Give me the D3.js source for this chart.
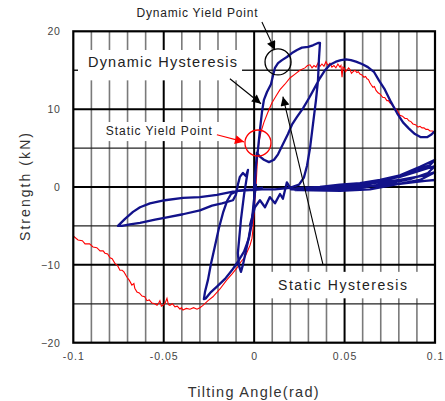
<!DOCTYPE html>
<html>
<head>
<meta charset="utf-8">
<script src="https://cdn.jsdelivr.net/npm/d3@7/dist/d3.min.js"></script>
<style>
  html, body { margin: 0; padding: 0; background: #fff; }
  svg { display: block; }
  text { font-family: "Liberation Sans", Arial, sans-serif; }
</style>
</head>
<body>
<svg id="chart" width="445" height="401"></svg>
<script>
// Tick values
const xTicks = [-0.1, -0.05, 0, 0.05, 0.1];
const xTickLabels = ["-0.1", "-0.05", "0", "0.05", "0.1"];
const yTicks = [-20, -10, 0, 10, 20];
const xMinor = d3.range(-9, 10).map(d => d / 100);
const yMinor = [-15, -5, 5, 15];

// Static loading test (tilting angle rad, strength kN)
const staticCurve = [
  [-0.100, -6.3], [-0.0974, -6.8], [-0.0950, -6.9], [-0.0935, -7.3], [-0.0910, -7.3], [-0.0891, -7.7],
  [-0.0870, -7.8], [-0.0852, -8.2], [-0.0835, -8.2], [-0.0825, -8.5], [-0.0810, -8.6], [-0.0797, -9.1],
  [-0.0785, -9.2], [-0.0770, -9.8], [-0.0755, -10.1], [-0.0742, -10.7], [-0.0730, -10.7], [-0.0720, -10.9],
  [-0.0703, -11.6], [-0.0690, -12.0], [-0.0676, -12.6], [-0.0665, -12.4], [-0.0660, -13.0], [-0.0648, -13.5],
  [-0.0635, -13.6], [-0.0620, -14.0], [-0.0605, -14.1], [-0.0593, -14.6], [-0.0580, -14.5], [-0.0565, -14.9],
  [-0.0550, -15.0], [-0.0537, -15.2], [-0.0528, -14.9], [-0.0521, -14.6], [-0.0513, -15.3], [-0.0504, -15.2],
  [-0.0492, -14.9], [-0.0482, -14.3], [-0.0474, -15.1], [-0.0466, -15.2], [-0.0452, -15.0], [-0.0438, -15.4],
  [-0.0425, -15.3], [-0.0410, -15.7], [-0.0402, -15.5], [-0.0394, -15.8], [-0.0375, -15.6], [-0.0355, -15.7],
  [-0.0335, -15.5], [-0.0316, -15.7], [-0.0300, -15.5], [-0.0283, -15.2], [-0.0255, -14.6], [-0.0228, -14.1],
  [-0.0189, -13.1], [-0.0150, -11.9], [-0.0123, -11.2], [-0.0095, -10.4], [-0.0073, -9.6], [-0.0051, -9.0],
  [-0.0034, -8.1], [-0.0023, -7.5], [-0.0012, -6.6], [-0.0007, -5.5], [-0.0001, -3.6], [0.0004, -1.7],
  [0.0010, 0.0], [0.0015, 2.2], [0.0021, 4.5], [0.0027, 5.8], [0.0038, 7.1], [0.0054, 8.3], [0.0076, 9.6],
  [0.0098, 10.8], [0.0121, 11.7], [0.0143, 12.5], [0.0170, 13.2], [0.0198, 14.0], [0.0226, 14.5],
  [0.0253, 15.0], [0.0281, 15.3], [0.0295, 15.6], [0.0309, 15.7], [0.0320, 15.3], [0.0331, 15.6],
  [0.0342, 15.4], [0.0353, 15.9], [0.0364, 15.5], [0.0375, 15.8], [0.0386, 15.5], [0.0397, 16.1],
  [0.0408, 15.6], [0.0419, 15.9], [0.0430, 15.4], [0.0441, 15.6], [0.0452, 15.3], [0.0463, 15.8],
  [0.0474, 15.4], [0.0480, 15.6], [0.0486, 14.1], [0.0491, 15.4], [0.0497, 15.3], [0.0505, 14.8],
  [0.0513, 15.0], [0.0522, 15.3], [0.0530, 15.1], [0.0538, 14.6], [0.0546, 14.8], [0.0557, 15.0],
  [0.0568, 14.7], [0.0576, 14.8], [0.0585, 14.5], [0.0596, 14.4], [0.0607, 14.1], [0.0616, 14.2],
  [0.0624, 13.9], [0.0632, 13.8], [0.0640, 13.4], [0.0648, 13.1], [0.0657, 12.8], [0.0665, 12.9],
  [0.0674, 12.4], [0.0685, 12.1], [0.0698, 11.9], [0.0712, 11.5], [0.0722, 11.5], [0.0734, 11.1],
  [0.0742, 11.1], [0.0751, 10.8], [0.0765, 10.5], [0.0779, 10.1], [0.0792, 9.8], [0.0806, 9.2],
  [0.0820, 9.1], [0.0834, 8.8], [0.0845, 8.8], [0.0856, 8.5], [0.0867, 8.4], [0.0878, 8.1],
  [0.0892, 8.0], [0.0906, 7.7], [0.0917, 7.8], [0.0928, 7.6], [0.0939, 7.6], [0.0950, 7.4],
  [0.0961, 7.4], [0.0972, 7.2], [0.0986, 7.2], [0.1000, 7.0]
];

// Dynamic test: main excursions (first push, reversal, second push)
const dynamicMain = [
  [0.0000, 0.0], [0.0004, 1.2], [0.0010, 2.8], [0.0021, 4.8], [0.0032, 7.3], [0.0043, 9.6], [0.0054, 11.2],
  [0.0071, 12.2], [0.0093, 13.2], [0.0104, 14.3], [0.0115, 15.3], [0.0132, 15.9], [0.0154, 16.3],
  [0.0181, 16.7], [0.0209, 17.2], [0.0237, 17.6], [0.0264, 17.9], [0.0298, 18.0], [0.0325, 18.2],
  [0.0353, 18.5], [0.0364, 18.5], [0.0358, 16.3], [0.0353, 13.7], [0.0342, 11.2], [0.0325, 8.0],
  [0.0309, 5.0], [0.0292, 2.7], [0.0275, 1.2], [0.0248, 0.3], [0.0198, -0.1], [0.0115, -0.3],
  [0.0043, -0.3], [-0.0023, -0.4], [-0.0090, -0.5], [-0.0128, -0.9], [-0.0150, -1.8], [-0.0172, -3.3],
  [-0.0195, -5.3], [-0.0217, -7.6], [-0.0239, -9.9], [-0.0255, -11.9], [-0.0272, -13.5], [-0.0278, -14.4],
  [-0.0267, -14.3], [-0.0239, -13.5], [-0.0206, -12.8], [-0.0161, -11.8], [-0.0123, -10.7], [-0.0090, -9.6],
  [-0.0056, -8.3], [-0.0029, -6.6], [-0.0012, -4.5], [-0.0001, -2.3], [0.0004, 0.3], [0.0010, 2.8],
  [0.0015, 4.4], [0.0032, 3.9], [0.0054, 3.5], [0.0082, 3.2], [0.0110, 3.5], [0.0132, 4.2], [0.0159, 5.5],
  [0.0187, 6.8], [0.0209, 8.0], [0.0237, 9.0], [0.0270, 10.1], [0.0303, 11.4], [0.0336, 12.8],
  [0.0364, 14.0], [0.0392, 15.0], [0.0419, 15.7], [0.0452, 16.1], [0.0480, 16.3], [0.0508, 16.4],
  [0.0535, 16.3], [0.0563, 16.1], [0.0596, 15.8], [0.0629, 15.4], [0.0662, 14.8], [0.0690, 13.7],
  [0.0723, 12.5], [0.0757, 10.9], [0.0790, 9.5], [0.0823, 8.3], [0.0856, 7.5], [0.0889, 6.8],
  [0.0922, 6.4], [0.0956, 6.4], [0.0978, 6.7], [0.1000, 7.2]
];

// Dynamic test: negative-side loop and small cycle near the origin
const dynamicLeft = [
  [0.0043, -0.1], [-0.0007, -0.3], [-0.0062, -0.4], [-0.0117, -0.6], [-0.0206, -1.0], [-0.0300, -1.3],
  [-0.0394, -1.4], [-0.0493, -1.7], [-0.0576, -2.1], [-0.0631, -2.6], [-0.0670, -3.2], [-0.0714, -4.1],
  [-0.0753, -5.0], [-0.0731, -5.0], [-0.0687, -4.8], [-0.0631, -4.6], [-0.0548, -4.2], [-0.0482, -3.9],
  [-0.0394, -3.5], [-0.0300, -3.0], [-0.0233, -2.4], [-0.0178, -2.1], [-0.0117, -1.7], [-0.0101, -1.0],
  [-0.0090, 0.3], [-0.0079, 1.3], [-0.0062, 1.8], [-0.0045, 1.4], [-0.0034, 2.2], [-0.0045, 0.6],
  [-0.0056, -1.0], [-0.0073, -4.2], [-0.0090, -8.5], [-0.0084, -10.1], [-0.0073, -10.9], [-0.0062, -10.0],
  [-0.0045, -8.2], [-0.0029, -6.4], [-0.0012, -4.2], [-0.0001, -1.7], [0.0010, 0.3]
];

// Dynamic test: repeated small cycles out to 0.1 rad
const dynamicBand = [
  [-0.0023, -4.9], [0.0004, -2.6], [0.0032, -1.7], [0.0060, -2.6], [0.0087, -1.3], [0.0115, -2.1],
  [0.0143, -0.9], [0.0159, -1.5], [0.0181, 0.6], [0.0204, -0.3], [0.0253, -0.1], [0.0364, 0.0],
  [0.0474, 0.3], [0.0585, 0.5], [0.0696, 0.9], [0.0806, 1.5], [0.0917, 2.6], [0.1000, 3.5],
  [0.0972, 2.8], [0.0889, 2.1], [0.0779, 1.2], [0.0640, 0.4], [0.0502, -0.1], [0.0364, -0.4],
  [0.0226, -0.4], [0.0309, -0.1], [0.0474, 0.1], [0.0640, 0.6], [0.0806, 1.3], [0.0917, 2.1],
  [0.1000, 2.7], [0.0961, 1.8], [0.0862, 1.0], [0.0751, 0.5], [0.0613, 0.0], [0.0474, -0.4],
  [0.0309, -0.4], [0.0209, -0.3], [0.0364, -0.1], [0.0585, 0.3], [0.0806, 0.9], [0.0945, 1.5],
  [0.1000, 1.9], [0.0917, 0.9], [0.0779, 0.3], [0.0640, -0.3], [0.0474, -0.5], [0.0253, -0.4],
  [0.0530, -0.1], [0.0806, 0.4], [0.0945, 0.8], [0.1000, 0.9]
];

const svg = d3.select("#chart");
const x = d3.scaleLinear().domain([-0.1, 0.1]).range([73.3, 435]);
const y = d3.scaleLinear().domain([-20, 20]).range([342.7, 31.3]);

// Grid
const grid = svg.append("g");
grid.selectAll("line.vminor").data(xMinor.filter(v => Math.abs(Math.round(v * 100) % 5) !== 0))
  .join("line")
  .attr("x1", d => x(d)).attr("x2", d => x(d))
  .attr("y1", y(20)).attr("y2", y(-20))
  .attr("stroke", "#7a7a7a").attr("stroke-width", 1.6);
grid.selectAll("line.hminor").data(yMinor)
  .join("line")
  .attr("x1", x(-0.1)).attr("x2", x(0.1))
  .attr("y1", d => y(d)).attr("y2", d => y(d))
  .attr("stroke", "#222").attr("stroke-width", 1.3);
grid.selectAll("line.vmajor").data([-0.05, 0, 0.05])
  .join("line")
  .attr("x1", d => x(d)).attr("x2", d => x(d))
  .attr("y1", y(20)).attr("y2", y(-20))
  .attr("stroke", "#000").attr("stroke-width", 2);
grid.selectAll("line.hmajor").data([-10, 0, 10])
  .join("line")
  .attr("x1", x(-0.1)).attr("x2", x(0.1))
  .attr("y1", d => y(d)).attr("y2", d => y(d))
  .attr("stroke", "#000").attr("stroke-width", 2);

// White label panels laid over the grid
const panels = [
  { x0: -0.0974, x1: -0.0067, y0: 17.6, y1: 13.7 },
  { x0: -0.0853, x1: -0.0178, y0: 8.35, y1: 5.9 },
  { x0: 0.0076, x1: 0.0917, y0: -10.9, y1: -14.3 }
];
svg.append("g").selectAll("rect").data(panels).join("rect")
  .attr("x", d => x(d.x0)).attr("y", d => y(d.y0))
  .attr("width", d => x(d.x1) - x(d.x0)).attr("height", d => y(d.y1) - y(d.y0))
  .attr("fill", "#fff");

// Curves
const line = d3.line().x(d => x(d[0])).y(d => y(d[1]));
svg.append("path").datum(staticCurve)
  .attr("d", line).attr("fill", "none").attr("stroke", "#ff0000").attr("stroke-width", 1.1);
[dynamicLeft, dynamicBand, dynamicMain].forEach(run => {
  svg.append("path").datum(run)
    .attr("d", line.curve(d3.curveLinear)).attr("fill", "none")
    .attr("stroke", "#12128a").attr("stroke-width", 2.3)
    .attr("stroke-linejoin", "round").attr("stroke-linecap", "round");
});

// Frame
svg.append("rect")
  .attr("x", x(-0.1)).attr("y", y(20))
  .attr("width", x(0.1) - x(-0.1)).attr("height", y(-20) - y(20))
  .attr("fill", "none").attr("stroke", "#000").attr("stroke-width", 2.2);

// Axes labels
const xAxis = d3.axisBottom(x).tickValues(xTicks).tickFormat((d, i) => xTickLabels[i]).tickSize(0).tickPadding(10);
svg.append("g").attr("transform", `translate(0,${y(-20)})`).call(xAxis)
  .call(g => g.select(".domain").remove())
  .selectAll("text").attr("font-size", 10.5).attr("fill", "#444")
  .attr("font-family", "'Liberation Sans', Arial, sans-serif").attr("letter-spacing", 1);
const yAxis = d3.axisLeft(y).tickValues(yTicks).tickSize(0).tickPadding(13);
svg.append("g").attr("transform", `translate(${x(-0.1)},0)`).call(yAxis)
  .call(g => g.select(".domain").remove())
  .selectAll("text").attr("font-size", 10.5).attr("fill", "#444")
  .attr("font-family", "'Liberation Sans', Arial, sans-serif").attr("letter-spacing", 0.5);

svg.append("text").attr("x", (x(-0.1) + x(0.1)) / 2 - 1).attr("y", 397)
  .attr("text-anchor", "middle").attr("font-size", 14.5).attr("fill", "#333")
  .attr("textLength", 131).attr("lengthAdjust", "spacing")
  .text("Tilting Angle(rad)");
svg.append("text").attr("transform", `translate(30,${y(0)}) rotate(-90)`)
  .attr("text-anchor", "middle").attr("font-size", 14).attr("fill", "#333")
  .attr("textLength", 108).attr("lengthAdjust", "spacing")
  .text("Strength (kN)");

// Annotations
const defs = svg.append("defs");
[["arrowBlack", "#000"], ["arrowRed", "#ff0000"]].forEach(([id, c]) => {
  defs.append("marker").attr("id", id)
    .attr("viewBox", "0 0 10 10").attr("refX", 10).attr("refY", 5)
    .attr("markerWidth", 12).attr("markerHeight", 9)
    .attr("markerUnits", "userSpaceOnUse").attr("orient", "auto")
    .append("path").attr("d", "M0,0 L10,5 L0,10 Z").attr("fill", c);
});

const labels = [
  { text: "Dynamic Yield Point", x: -0.0316, y: 21.8, size: 12, len: 121, anchor: "middle" },
  { text: "Dynamic Hysteresis", x: -0.0919, y: 15.4, size: 14.5, len: 149, anchor: "start" },
  { text: "Static Yield Point", x: -0.0820, y: 6.7, size: 12, len: 106, anchor: "start" },
  { text: "Static Hysteresis", x: 0.0132, y: -13.2, size: 14, len: 129, anchor: "start" }
];
svg.append("g").selectAll("text").data(labels).join("text")
  .attr("x", d => x(d.x)).attr("y", d => y(d.y))
  .attr("text-anchor", d => d.anchor).attr("font-size", d => d.size)
  .attr("textLength", d => d.len).attr("lengthAdjust", "spacing")
  .attr("fill", "#222").text(d => d.text);

const arrows = [
  { from: [0.0043, 21.2], to: [0.0115, 17.6], color: "#000", marker: "arrowBlack" },
  { from: [-0.0134, 13.9], to: [0.0038, 10.7], color: "#000", marker: "arrowBlack" },
  { from: [0.0380, -9.9], to: [0.0159, 11.6], color: "#000", marker: "arrowBlack" },
  { from: [-0.0206, 6.7], to: [-0.0056, 5.8], color: "#ff0000", marker: "arrowRed" }
];
svg.append("g").selectAll("line").data(arrows).join("line")
  .attr("x1", d => x(d.from[0])).attr("y1", d => y(d.from[1]))
  .attr("x2", d => x(d.to[0])).attr("y2", d => y(d.to[1]))
  .attr("stroke", d => d.color).attr("stroke-width", 1.1)
  .attr("marker-end", d => `url(#${d.marker})`);

const rings = [
  { cx: 0.0132, cy: 16.06, color: "#000" },
  { cx: 0.0021, cy: 5.65, color: "#ff0000" }
];
svg.append("g").selectAll("circle").data(rings).join("circle")
  .attr("cx", d => x(d.cx)).attr("cy", d => y(d.cy)).attr("r", 13)
  .attr("fill", "none").attr("stroke", d => d.color).attr("stroke-width", 1.3);
</script>
</body>
</html>
